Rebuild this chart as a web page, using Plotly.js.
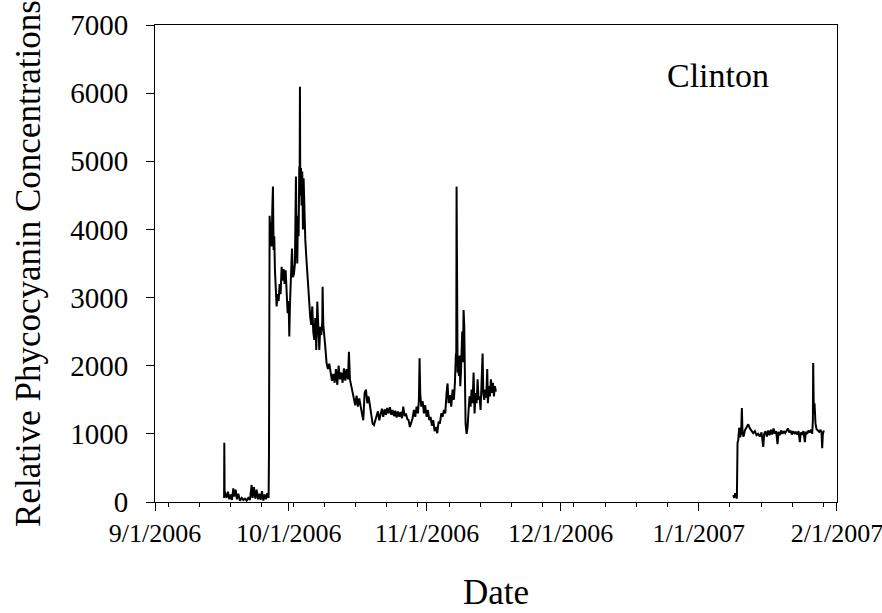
<!DOCTYPE html>
<html>
<head>
<meta charset="utf-8">
<script src="https://cdn.plot.ly/plotly-3.0.1.min.js"></script>
<style>html,body{margin:0;padding:0;background:#fff}#chart{width:882px;height:613px}</style>
</head>
<body>
<div id="chart"></div>
<script>
// Days elapsed since 9/1/2006 (fractional); null = no data (gap)
const seriesStart = '2006-09-01';
const days = [
  15.50, 15.55, 15.62, 15.77, 16.07, 16.37, 16.67, 16.97, 17.27, 17.57, 17.79, 18.09, 18.39, 18.69,
  19.06, 19.44, 19.81, 20.18, 20.56, 20.93, 21.31, 21.68, 21.90, 22.20, 22.50, 22.80, 23.10, 23.40,
  23.70, 24.00, 24.30, 24.60, 24.89, 25.19, 25.49, 25.57,
  25.72, 25.87, 26.02, 26.17, 26.32, 26.46, 26.61, 26.76, 26.91, 27.14, 27.29, 27.51, 27.74, 27.96,
  28.18, 28.41, 28.63, 28.86, 29.08, 29.31, 29.53, 29.76, 29.98, 30.13, 30.28, 30.50, 30.73, 30.95,
  31.17, 31.40, 31.62, 31.77, 31.92, 32.07, 32.22, 32.37, 32.45, 32.52, 32.60, 32.75, 32.89, 33.04,
  33.19, 33.34, 33.49, 33.72, 33.94, 34.17, 34.39, 34.61, 34.84, 35.06, 35.29, 35.51, 35.74, 35.96,
  36.18, 36.41, 36.63, 36.86, 37.08, 37.31, 37.53, 37.60, 37.76, 37.98, 38.20, 38.50, 38.80, 39.10,
  39.40, 39.70, 40.00, 40.30, 40.60, 40.90, 41.19, 41.49, 41.79, 42.09, 42.39, 42.69, 42.99, 43.29,
  43.51, 43.74, 44.04, 44.33, 44.63, 44.93, 45.23, 45.53, 45.83, 46.13, 46.43, 46.73, 47.03, 47.33,
  47.63, 47.92, 48.22, 48.52, 48.82, 49.12, 49.42, 49.72, 50.02, 50.32, 50.62, 50.91, 51.21, 51.51,
  51.81, 52.11, 52.41, 52.71, 53.01, 53.31, 53.61, 53.91, 54.20, 54.50, 54.80, 55.10, 55.40, 55.70,
  56.00, 56.30, 56.60, 56.90, 57.19, 57.49, 57.79, 58.09, 58.39, 58.69, 58.99, 59.21, 59.36, 59.51,
  59.74, 60.04, 60.34, 60.63, 60.93, 61.23, 61.53, 61.83, 62.13, 62.43, 62.73, 63.03, 63.33, 63.63,
  63.92, 64.22, 64.52, 64.82, 65.12, 65.42, 65.64, 65.87, 66.17, 66.47, 66.76, 67.06, 67.29, 67.51,
  67.59, 67.66, 67.74, 67.89, 68.04, 68.19, 68.34, 68.49, 68.64, 68.78, 68.93, 69.08, 69.23, 69.38,
  69.53, 69.68, 69.91, 70.13, 70.36, 70.58, 70.81, 71.03, 71.25, 71.48, 71.70, 71.93, 72.15, 72.38,
  72.60, 72.82, 73.05, 73.27, 73.50, 73.65, 73.87, 74.10, 74.32, 74.54, 74.69, 74.92, 75.14, 75.37,
  75.59, 75.82, 76.04, 76.26, 76.49,
  100.0,
  129.73, 129.95, 130.18, 130.40, 130.55, 130.70, 130.85, 131.07, 131.30, 131.52, 131.67, 131.82,
  132.05, 132.34, 132.72, 133.09, 133.47, 133.84, 134.21, 134.59, 134.96, 135.33, 135.71, 136.08,
  136.46, 136.68, 136.98, 137.28, 137.58, 137.88, 138.18, 138.47, 138.77, 139.07, 139.37, 139.67,
  139.90, 140.19, 140.49, 140.79, 141.09, 141.39, 141.69, 141.99, 142.29, 142.59, 142.89, 143.19,
  143.49, 143.78, 144.08, 144.38, 144.68, 144.90, 145.20, 145.50, 145.80, 146.03, 146.33, 146.63,
  146.93, 147.22, 147.45, 147.60, 147.67, 147.82, 147.97, 148.19, 148.42, 148.72, 149.02, 149.32,
  149.54, 149.69, 149.84, 150.07
];
const phycocyanin = [
  60, 870, 120, 130, 60, 150, 40, 110, 30, 200, 80, 180, 40, 120,
  20, 60, 30, 50, 20, 60, 30, 250, 60, 220, 50, 180, 40, 120,
  30, 160, 20, 110, 40, 130, 60, 700,
  4200, 3900, 4100, 3750, 4300, 4628, 3700, 3900, 3400, 3100, 2870, 3050, 2950, 3200,
  3050, 3450, 3250, 3420, 3200, 3400, 3050, 2770, 2950, 2430, 2900, 3500, 3720, 3300,
  3350, 3500, 4775, 3800, 3500, 4200, 3900, 4921, 4600, 6095, 4500, 4900, 4350, 4850,
  4000, 4750, 4200, 3850, 3600, 3350, 3150, 2900, 2700, 2600, 2870, 2500, 2380, 2700,
  2230, 2940, 2400, 2230, 2570, 2450, 2650, 3160, 2600, 2480, 2280, 2035, 1950, 2030,
  1900, 1780, 1880, 1750, 1950, 1720, 2000, 1800, 1900, 1750, 1960, 1780, 1950, 1800,
  2206, 1800, 1700, 1620, 1500, 1420, 1560, 1400, 1520, 1380, 1300, 1200, 1600, 1650,
  1450, 1550, 1400, 1300, 1150, 1130, 1200, 1250, 1330, 1200, 1300, 1370, 1250, 1360,
  1280, 1380, 1300, 1390, 1280, 1350, 1260, 1340, 1240, 1330, 1250, 1320, 1230, 1400,
  1260, 1300, 1220, 1200, 1100, 1160, 1230, 1350, 1250, 1400, 1300, 1500, 2108, 1600,
  1400, 1480, 1300, 1420, 1250, 1350, 1200, 1250, 1120, 1200, 1040, 1100, 1010, 1180,
  1150, 1300, 1250, 1350, 1300, 1600, 1740, 1450, 1570, 1400, 1650, 1500, 1750, 2180,
  2000, 4628, 2100, 1900, 2000, 1850, 2150, 1700, 1900, 2300, 2500, 2050, 2818, 2600,
  1500, 1150, 1000, 1100, 1350, 1550, 1400, 1650, 1450, 1900, 1300, 1600, 1450, 1800,
  1500, 1550, 1350, 1750, 2180, 1600, 1500, 1650, 1530, 1950, 1450, 1700, 1550, 1800,
  1600, 1750, 1550, 1700, 1620,
  null,
  100, 60, 130, 70, 50, 870, 900, 1090, 950, 1050, 1380, 1000,
  960, 1050, 1090, 1140, 1080, 1040, 1010, 1040, 980, 1000, 960, 1020,
  810, 1000, 1040, 960, 1050, 980, 1060, 990, 1080, 1000, 1040, 850,
  1030, 980, 1050, 1000, 1040, 1010, 1060, 1080, 1020, 1050, 990, 1040,
  1000, 1030, 990, 1040, 880, 1020, 1000, 1040, 880, 1030, 1000, 1050,
  1020, 1060, 1000, 1200, 2040, 1300, 1450, 1150, 1070, 1050, 1030, 1060,
  1020, 790, 1000, 1050
];
const monthTicks = ['2006-09-01', '2006-10-01', '2006-11-01', '2006-12-01', '2007-01-01', '2007-02-01'];
const siteLabel = 'Clinton';
const xTitle = 'Date';
const yTitle = 'Relative Phycocyanin Concentrations';

const base = Date.parse(seriesStart + 'T00:00:00Z');
const dates = days.map(d => new Date(base + d * 86400000).toISOString().replace('T', ' ').slice(0, 19));

const serif = '"Liberation Serif", "Times New Roman", Times, serif';
const trace = {
  x: dates, y: phycocyanin, type: 'scatter', mode: 'lines',
  line: {color: '#000', width: 2}, connectgaps: false, hoverinfo: 'x+y'
};

const layout = {
  width: 882, height: 613,
  margin: {l: 155, r: 45, t: 25, b: 111},
  paper_bgcolor: '#fff', plot_bgcolor: '#fff',
  showlegend: false,
  font: {family: serif, color: '#000', size: 26},
  xaxis: {
    type: 'date', range: ['2006-09-01', '2007-02-01 00:20'],
    tickmode: 'array', tickvals: monthTicks, tickformat: '%-m/%-d/%Y',
    ticklabeloverflow: 'allow',
    ticks: 'outside', ticklen: 8, tickwidth: 1, tickcolor: '#000',
    minor: {ticks: 'outside', ticklen: 4, tickwidth: 1, tickcolor: '#000', tick0: '2006-09-04', dtick: 7 * 86400000, showgrid: false},
    showline: true, linecolor: '#000', linewidth: 1, mirror: true,
    showgrid: false, zeroline: false,
    tickfont: {family: serif, size: 26, color: '#000'},
    title: {text: xTitle, font: {family: serif, size: 35, color: '#000'}, standoff: 32}
  },
  yaxis: {
    range: [0, 7000], dtick: 1000, tick0: 0,
    ticks: 'outside', ticklen: 8, tickwidth: 1, tickcolor: '#000',
    ticklabelstandoff: 12,
    showline: true, linecolor: '#000', linewidth: 1, mirror: true,
    showgrid: false, zeroline: false,
    tickfont: {family: serif, size: 29, color: '#000'},
    title: {text: yTitle, font: {family: serif, size: 35, color: '#000'}, standoff: 18}
  },
  annotations: [{
    text: siteLabel, xref: 'paper', yref: 'paper', x: 0.825, y: 0.895,
    xanchor: 'center', yanchor: 'middle', showarrow: false,
    font: {family: serif, size: 34, color: '#000'}
  }]
};

Plotly.newPlot('chart', [trace], layout, {displayModeBar: false, staticPlot: true});
</script>
</body>
</html>
